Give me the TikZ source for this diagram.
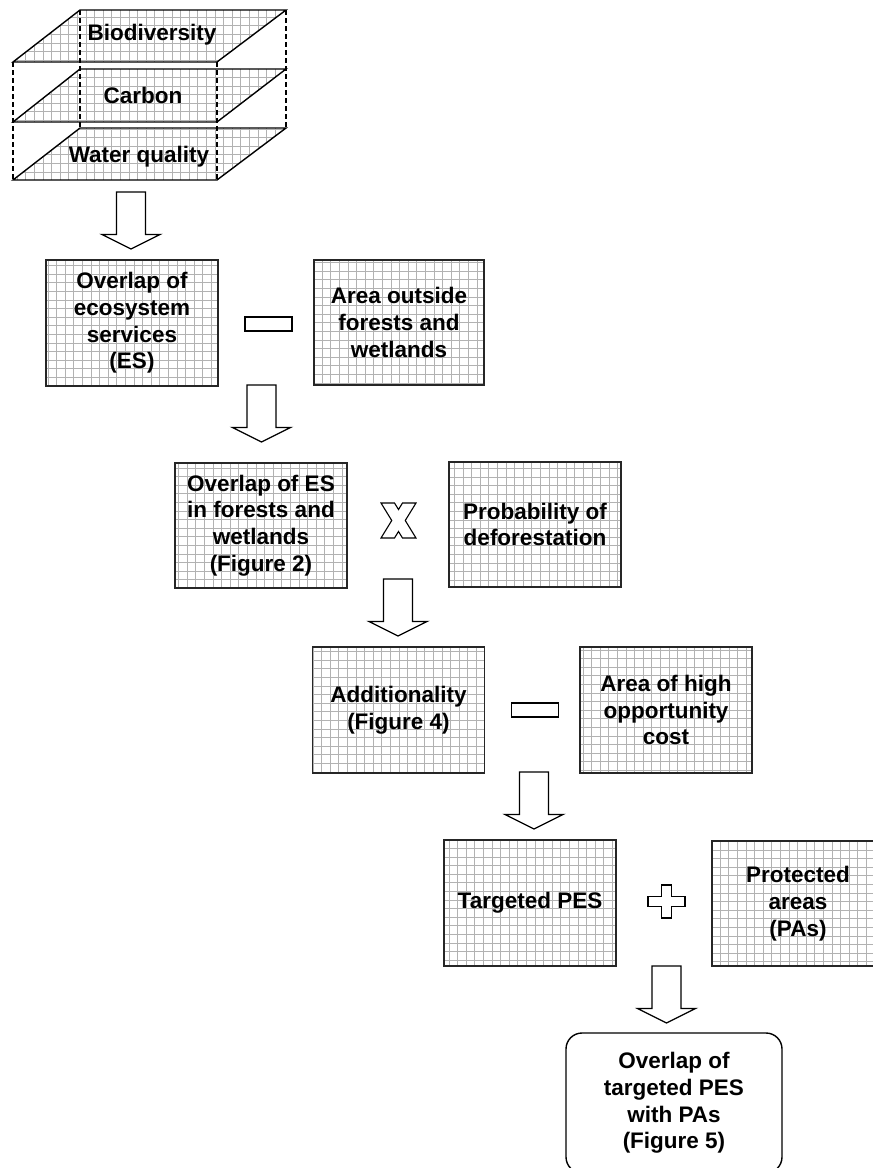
\documentclass[tikz,border=0pt]{standalone}
\usepackage{fontspec}
\setmainfont{Liberation Sans}
\begin{document}
\begin{tikzpicture}[x=1pt,y=-1pt]
\tikzset{
 gridlines/.style={draw=black!30, line width=1pt},
 gridfill/.style={path picture={\draw[gridlines, step=8.6pt] (path picture bounding box.south west) grid (path picture bounding box.north east);}},
 txt/.style={align=center, font=\fontsize{22.5}{26.7}\selectfont\bfseries, inner sep=0pt},
 esbox/.style={txt, draw=black!85, line width=1.4pt, fill=white, gridfill, minimum width=172pt, minimum height=126pt},
 outline/.style={draw=black, line width=1.3pt, fill=white, line join=miter},
 layeredge/.style={draw=black, line width=1.4pt, line join=miter},
 hidden/.style={draw=black, line width=1.2pt, dash pattern=on 5pt off 3pt},
 opbar/.style={outline, minimum width=47pt, minimum height=14pt, inner sep=0pt},
 downarr/.pic={\draw[outline] (-14.5,0) -- (14.5,0) -- (14.5,42.5) -- (29,42.5) -- (0,57) -- (-29,42.5) -- (-14.5,42.5) -- cycle;}
}
\useasboundingbox (0,0) rectangle (873,1168);
\clip (0,0) rectangle (873,1168);

% stacked layers
\foreach \yb/\yf in {10/62, 69/122, 128/180}{
  \begin{scope}
    \clip (80,\yb) -- (286,\yb) -- (217,\yf) -- (13,\yf) -- cycle;
    \draw[gridlines, step=8.6pt] (13,\yf) grid (286,\yb);
  \end{scope}
}
\draw[hidden] (13,62) -- (13,180);
\draw[hidden] (80,10) -- (80,128);
\draw[hidden] (217,62) -- (217,180);
\draw[hidden] (286,10) -- (286,128);
\foreach \yb/\yf in {10/62, 69/122, 128/180}{
  \draw[layeredge] (80,\yb) -- (286,\yb) -- (217,\yf) -- (13,\yf) -- cycle;
}
\node[txt] (l1) at (152,35) {Biodiversity};
\node[txt] (l2) at (143,95) {Carbon};
\node[txt] (l3) at (139,157) {Water quality};

% boxes
\node[esbox] (b1) at (132,323) {Overlap of\\ecosystem\\services\\(ES)};
\node[esbox, minimum width=170pt, minimum height=125pt] (b2) at (399,322.5) {Area outside\\forests and\\wetlands};
\node[esbox, minimum height=125pt] (b3) at (261,525.5) {Overlap of ES\\in forests and\\wetlands\\(Figure 2)};
\node[esbox, minimum height=125pt] (b4) at (535,524.5) {Probability of\\deforestation};
\node[esbox] (b5) at (398.5,710) {Additionality\\(Figure 4)};
\node[esbox] (b6) at (666,710) {Area of high\\opportunity\\cost};
\node[esbox] (b7) at (530,903) {Targeted PES};
\node[esbox, minimum height=125pt] (b8) at (798,903.5) {Protected\\areas\\(PAs)};
\node[txt, draw=black, line width=1.4pt, rounded corners=16pt, minimum width=216pt, minimum height=140pt] (b9) at (674,1103) {Overlap of\\targeted PES\\with PAs\\(Figure 5)};

% operators
\node[opbar] (m1) at (268.5,324) {};
\node[opbar] (m2) at (535,710) {};
\begin{scope}[shift={(398.5,520.5)}]
  \draw[outline, line width=1.1pt] (-17.5,-17.5) -- (-4,-17.5) -- (0,-11) -- (4,-17.5) -- (17.5,-17.5) -- (6.75,0) -- (17.5,17.5) -- (4,17.5) -- (0,11) -- (-4,17.5) -- (-17.5,17.5) -- (-6.75,0) -- cycle;
\end{scope}
\begin{scope}[shift={(666.5,901.5)}]
  \draw[outline] (-5,-16.5) -- (5,-16.5) -- (5,-5) -- (18.5,-5) -- (18.5,5) -- (5,5) -- (5,16.5) -- (-5,16.5) -- (-5,5) -- (-18.5,5) -- (-18.5,-5) -- (-5,-5) -- cycle;
\end{scope}

% block arrows
\pic at (131,192) {downarr};
\pic at (261.5,385) {downarr};
\pic at (398,579) {downarr};
\pic at (534,772) {downarr};
\pic at (666.5,966) {downarr};
\end{tikzpicture}
\end{document}
